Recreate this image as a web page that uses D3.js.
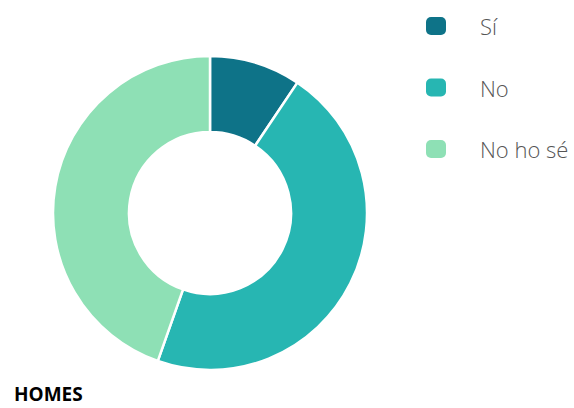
<!DOCTYPE html>
<html>
<head>
<meta charset="utf-8">
<script src="https://cdn.jsdelivr.net/npm/d3@7"></script>
<style>
  html, body { margin: 0; padding: 0; background: #fff; }
  svg { display: block; }
</style>
</head>
<body>
<svg id="chart" width="574" height="408"></svg>
<script>
const categories = ["Sí", "No", "No ho sé"];
const values = [9.4, 46.0, 44.6];
const colors = ["#0e7388", "#27b6b2", "#8ee0b5"];
const title = "HOMES";

const svg = d3.select("#chart");
const cx = 210, cy = 213, outerR = 157, innerR = 81;

const pie = d3.pie().sort(null).value(d => d.value);
const arc = d3.arc().innerRadius(innerR).outerRadius(outerR);
const data = categories.map((c, i) => ({ cat: c, value: values[i] }));
const color = d3.scaleOrdinal().domain(categories).range(colors);

svg.append("g")
  .attr("transform", `translate(${cx},${cy})`)
  .selectAll("path")
  .data(pie(data))
  .join("path")
  .attr("d", arc)
  .attr("fill", d => color(d.data.cat))
  .attr("stroke", "#fff")
  .attr("stroke-width", 2.5)
  .attr("stroke-linejoin", "round");

const legendY = d3.scalePoint().domain(categories).range([26, 149]);
const lg = svg.append("g");
const items = lg.selectAll("g").data(categories).join("g")
  .attr("transform", d => `translate(0,${legendY(d)})`);
items.append("rect")
  .attr("x", 426).attr("y", -9)
  .attr("width", 20).attr("height", 18)
  .attr("rx", 5).attr("ry", 5)
  .attr("fill", d => color(d));
items.append("text")
  .attr("x", 480).attr("y", 9)
  .attr("font-family", "'Open Sans', sans-serif")
  .attr("font-weight", 300)
  .attr("font-size", 22)
  .attr("fill", "#555")
  .text(d => d);

svg.append("text")
  .attr("x", 14).attr("y", 401)
  .attr("font-family", "'Open Sans', sans-serif")
  .attr("font-weight", 700)
  .attr("font-size", 19)
  .attr("fill", "#000")
  .text(title);
</script>
</body>
</html>
